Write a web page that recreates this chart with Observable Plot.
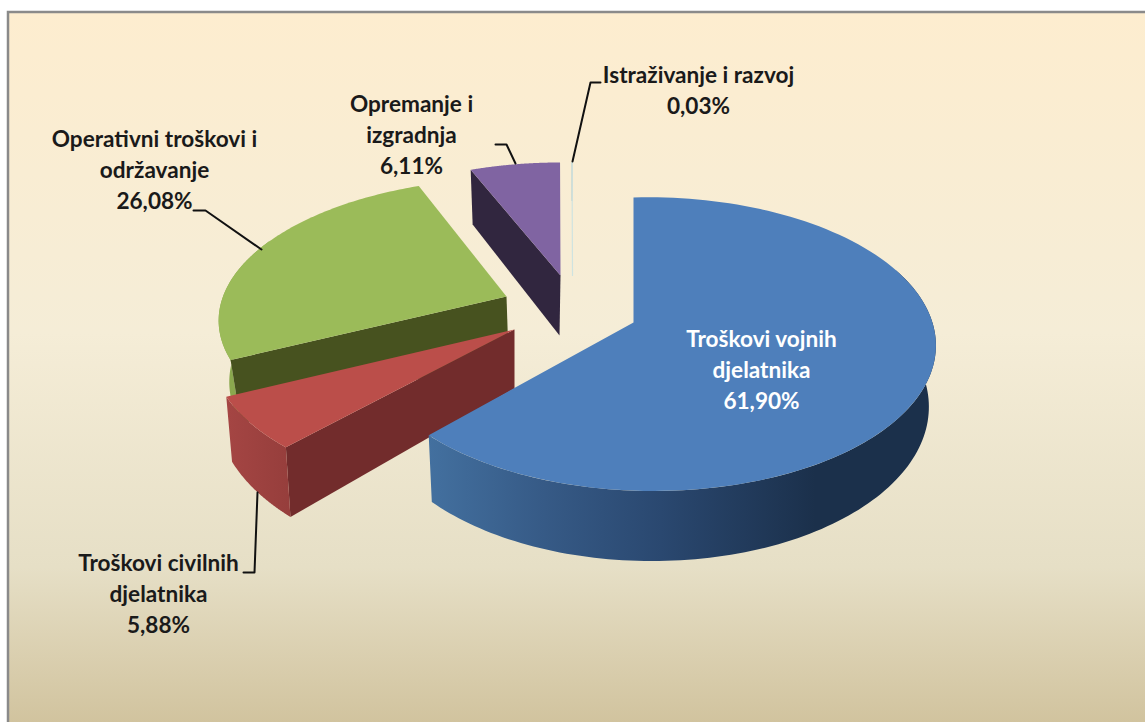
<!DOCTYPE html>
<html>
<head>
<meta charset="utf-8">
<style>html,body{margin:0;padding:0;background:#fff}svg{display:block}</style>
<script src="https://cdn.jsdelivr.net/npm/d3@7"></script>
<script src="https://cdn.jsdelivr.net/npm/@observablehq/plot@0.6"></script>
</head>
<body>
<div id="chart"></div>
<script>
// DATA
const categories = ["Troškovi vojnih\ndjelatnika", "Troškovi civilnih\ndjelatnika", "Operativni troškovi i\nodržavanje", "Opremanje i\nizgradnja", "Istraživanje i razvoj"];
const shares = [61.90, 5.88, 26.08, 6.11, 0.03];

// STYLE / LAYOUT
const W = 1145, H = 722;
const topFill  = ["#4e7fbb", "#bb4e4a", "#9bbb59", "#8064a2", "#cfe3e0"];
const edgeFill = ["#1b304b", "#722c2c", "#47521f", "#31263f", "#b5c8c6"];
const rimFill  = ["url(#blueWall)", "url(#redWall)", "#8aa84e", "#6a5387", "#b5c8c6"];
const textFill = ["#ffffff", "#1a1a1a", "#1a1a1a", "#1a1a1a", "#1a1a1a"];
// Each exploded slice: apex position, projection shape, and how the base sits under the top face
const slices = [
  {ax:633, ay:322, A:281, B:143.4, p:.147, q:-.06, S:0,  k:1,    dx:-1, dy:60, sx:.98,  sy:1.06},
  {ax:514, ay:329, A:300, B:143.4, p:.147, q:0,    S:0,  k:1,    dx:0,  dy:59, sx:.98,  sy:1.09},
  {ax:506, ay:296, A:300, B:143.4, p:.147, q:0,    S:8,  k:.945, dx:2,  dy:60, sx:.97,  sy:1.06},
  {ax:560, ay:275, A:300, B:143.4, p:.147, q:0,    S:0,  k:.904, dx:-1, dy:60, sx:.967, sy:1.05},
  {ax:572, ay:275, A:300, B:143.4, p:.147, q:0,    S:0,  k:.904, dx:0,  dy:38, sx:1,    sy:1}
];
const labelAt = [[761, 368], [158, 592], [154, 168], [411, 133], [698, 88]];
const leaders = [
  [],
  [[243, 572], [254, 572], [257, 492]],
  [[193, 210], [205, 210], [261, 249]],
  [[495, 144], [506, 144], [515, 163]],
  [[600, 82], [590, 82], [572, 161]]
];

// Angles come from the shares: clockwise from 12 o'clock
const total = d3.sum(shares);
let acc = 0;
const angles = shares.map(v => { const a0 = acc; acc += v / total * 2 * Math.PI; return [a0, acc]; });

const project = (s, t, base) => {
  const X = Math.sin(t), Y = Math.cos(t), w = 1 + s.p * Y + s.q * X;
  const px = s.k * (s.A * X + s.S * Y) / w, py = -s.k * s.B * Y / w;
  return base ? {x: s.ax + s.dx + px * s.sx, y: s.ay + s.dy + py * s.sy} : {x: s.ax + px, y: s.ay + py};
};
const apex = (s, base) => base ? {x: s.ax + s.dx, y: s.ay + s.dy} : {x: s.ax, y: s.ay};
const arc = (s, a, b, base) => d3.range(0, 121).map(i => project(s, a + (b - a) * i / 120, base));
const topFace = i => { const s = slices[i], [a, b] = angles[i]; return [apex(s), ...arc(s, a, b)]; };
const rimWall = (i, a, b) => { const s = slices[i]; return [...arc(s, a, b), ...arc(s, b, a, true)]; };
const edgeWall = (i, t) => { const s = slices[i]; return [apex(s), project(s, t), project(s, t, true), apex(s, true)]; };
const poly = (pts, fill) => Plot.line(pts, {x: "x", y: "y", fill, stroke: "none", curve: "linear"});

const defs = () => {
  const svg = d3.create("svg:defs");
  const grad = (id, attrs, stops) => {
    const g = svg.append("linearGradient").attr("id", id);
    Object.entries(attrs).forEach(([k, v]) => g.attr(k, v));
    stops.forEach(([o, c]) => g.append("stop").attr("offset", o).attr("stop-color", c));
  };
  grad("bg", {x1: 0, x2: 0, y1: 0, y2: 1}, [[0, "#fdedcf"], [.45, "#f5edd7"], [.78, "#e6dfc6"], [1, "#d1c39e"]]);
  grad("blueWall", {gradientUnits: "userSpaceOnUse", x1: 428, x2: 815, y1: 0, y2: 0},
    [[0, "#43709f"], [.3, "#365a86"], [.6, "#2a4870"], [1, "#1b304b"]]);
  grad("redWall", {gradientUnits: "userSpaceOnUse", x1: 228, x2: 289, y1: 0, y2: 0},
    [[0, "#a44543"], [1, "#963e3c"]]);
  return svg.node();
};

const marks = [
  defs,
  Plot.rect([{}], {x1: () => 8, x2: () => W + 2, y1: () => 12, y2: () => H + 2, fill: "url(#bg)", stroke: "#8a8a8a", strokeWidth: 2.5})
];
// Back to front: green, sliver, purple, red, blue
const order = [2, 4, 3, 1, 0];
for (const i of order) {
  const [a, b] = angles[i];
  if (i === 0) {
    marks.push(poly(rimWall(i, 1.2, b), rimFill[i]));
  } else if (i === 1) {
    marks.push(poly(edgeWall(i, a), edgeFill[i]));
    marks.push(poly(rimWall(i, a, b), rimFill[i]));
  } else if (i === 2) {
    marks.push(poly(rimWall(i, a, a + .9), rimFill[i]));
    marks.push(poly(edgeWall(i, a), edgeFill[i]));
  } else if (i === 3) {
    marks.push(poly(edgeWall(i, a), edgeFill[i]));
  } else {
    marks.push(Plot.line(edgeWall(i, a).slice(1, 3), {x: "x", y: "y", stroke: edgeFill[i], strokeWidth: 1.2}));
  }
  if (i === 4) marks.push(Plot.line(topFace(i), {x: "x", y: "y", stroke: topFill[i], strokeWidth: 1.2}));
  else marks.push(poly(topFace(i), topFill[i]));
}
leaders.forEach(l => {
  if (l.length) marks.push(Plot.line(l.map(([x, y]) => ({x, y})), {x: "x", y: "y", stroke: "#111", strokeWidth: 2, curve: "linear"}));
});
const labels = categories.map((c, i) => ({
  text: c + "\n" + shares[i].toFixed(2).replace(".", ",") + "%",
  x: labelAt[i][0], y: labelAt[i][1], fill: textFill[i]
}));
marks.push(Plot.text(labels, {
  x: "x", y: "y", text: "text", fill: "fill", textAnchor: "middle", lineAnchor: "middle",
  fontFamily: "Lato", fontWeight: 700, fontSize: 22.6, lineHeight: 1.37
}));

const chart = Plot.plot({
  width: W, height: H, margin: 0,
  x: {type: "linear", domain: [0, W], range: [0, W], axis: null},
  y: {type: "linear", domain: [0, H], range: [0, H], axis: null},
  style: {background: "#fff"},
  marks
});
document.getElementById("chart").append(chart);
</script>
</body>
</html>
